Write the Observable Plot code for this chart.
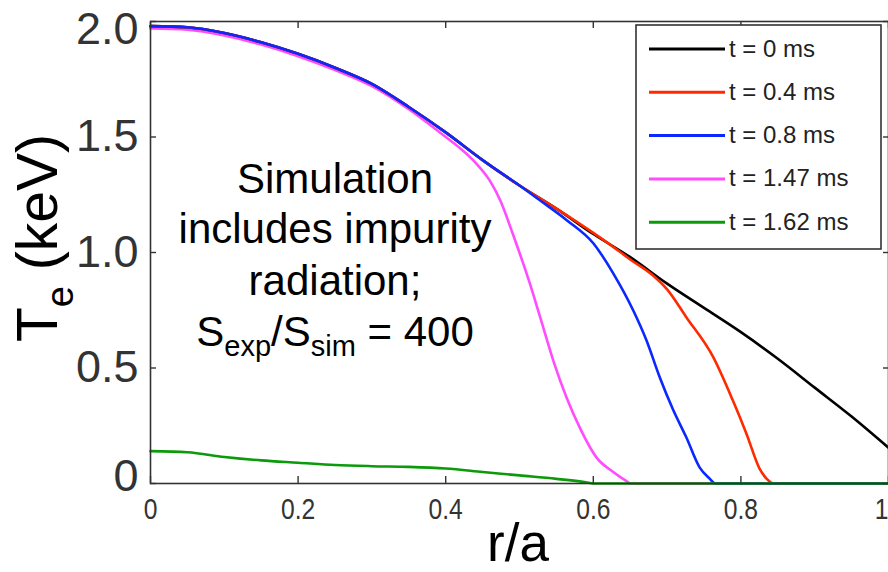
<!DOCTYPE html>
<html><head><meta charset="utf-8">
<script src="https://cdn.jsdelivr.net/npm/d3@7"></script>
<script src="https://cdn.jsdelivr.net/npm/@observablehq/plot@0.6"></script>
<style>body{margin:0;background:#fff;font-family:"Liberation Sans",Arial,sans-serif} svg{display:block}</style>
</head><body><div id="chart"></div>
<script>
// ---- data ----
const seriesNames  = ["t = 0 ms", "t = 0.4 ms", "t = 0.8 ms", "t = 1.47 ms", "t = 1.62 ms"];
const seriesColors = ["#000000", "#ff2a00", "#0a28ff", "#ff4cff", "#0a9a0a"];

const r_t0   = [0, 0.05, 0.1, 0.15, 0.2, 0.25, 0.3, 0.35, 0.4, 0.45, 0.5, 0.55, 0.6, 0.65, 0.7, 0.75, 0.8, 0.85, 0.9, 0.95, 1.0];
const T_t0   = [1.98, 1.975, 1.95, 1.91, 1.86, 1.80, 1.73, 1.63, 1.52, 1.40, 1.29, 1.19, 1.08, 0.98, 0.865, 0.76, 0.655, 0.54, 0.415, 0.29, 0.155];

const r_t04  = [0, 0.05, 0.1, 0.15, 0.2, 0.25, 0.3, 0.35, 0.4, 0.45, 0.5, 0.55, 0.6, 0.618, 0.65, 0.681, 0.7, 0.726, 0.762, 0.789, 0.807, 0.826, 0.835, 0.845, 1.0];
const T_t04  = [1.98, 1.975, 1.95, 1.91, 1.86, 1.80, 1.73, 1.63, 1.52, 1.40, 1.29, 1.19, 1.085, 1.045, 0.97, 0.90, 0.84, 0.72, 0.55, 0.36, 0.22, 0.06, 0.02, 0, 0];

const r_t08  = [0, 0.05, 0.1, 0.15, 0.2, 0.25, 0.3, 0.35, 0.4, 0.45, 0.5, 0.528, 0.564, 0.6, 0.627, 0.654, 0.672, 0.69, 0.708, 0.726, 0.744, 0.758, 0.765, 1.0];
const T_t08  = [1.98, 1.975, 1.95, 1.91, 1.86, 1.80, 1.73, 1.63, 1.52, 1.40, 1.29, 1.225, 1.14, 1.04, 0.91, 0.75, 0.62, 0.46, 0.32, 0.20, 0.07, 0.02, 0, 0];

const r_t147 = [0, 0.05, 0.1, 0.15, 0.2, 0.25, 0.3, 0.35, 0.4, 0.42, 0.44, 0.46, 0.474, 0.491, 0.514, 0.528, 0.546, 0.564, 0.582, 0.605, 0.627, 0.645, 0.65, 1.0];
const T_t147 = [1.97, 1.965, 1.94, 1.90, 1.85, 1.79, 1.72, 1.62, 1.50, 1.45, 1.39, 1.31, 1.225, 1.08, 0.866, 0.72, 0.53, 0.37, 0.24, 0.11, 0.05, 0.01, 0, 0];

const r_t162 = [0, 0.05, 0.1, 0.15, 0.2, 0.25, 0.3, 0.35, 0.4, 0.45, 0.5, 0.55, 0.59, 0.6, 1.0];
const T_t162 = [0.14, 0.135, 0.115, 0.10, 0.09, 0.08, 0.075, 0.072, 0.065, 0.05, 0.035, 0.02, 0.005, 0, 0];

const xTicks = [0, 0.2, 0.4, 0.6, 0.8, 1];
const xTickLabels = ["0", "0.2", "0.4", "0.6", "0.8", "1"];
const yTicks = [0, 0.5, 1, 1.5, 2];
const yTickLabels = ["0", "0.5", "1.0", "1.5", "2.0"];

const annotationLines = ["Simulation", "includes impurity", "radiation;"];

// ---- build table ----
const rs = [r_t0, r_t04, r_t08, r_t147, r_t162];
const Ts = [T_t0, T_t04, T_t08, T_t147, T_t162];
const rows = rs.map((r, s) => r.map((v, i) => ({s, r: v, T: Ts[s][i]})));
const drawOrder = [3, 0, 1, 2, 4];
const yLab = new Map(yTicks.map((t, i) => [t, yTickLabels[i]]));
const xLab = new Map(xTicks.map((t, i) => [t, xTickLabels[i]]));
const axisColor = "#333";

const plot = Plot.plot({
  width: 888, height: 572,
  marginLeft: 150, marginRight: 0, marginTop: 21, marginBottom: 89,
  style: {fontFamily: "'Liberation Sans', Arial, sans-serif", background: "#fff", color: axisColor},
  x: {domain: [0, 1]},
  y: {domain: [0, 2]},
  marks: [
    ...drawOrder.map(s => Plot.line(rows[s], {x: "r", y: "T", stroke: seriesColors[s], strokeWidth: 2.6, curve: "monotone-x"})),
    Plot.frame({stroke: axisColor, strokeWidth: 1.6}),
    Plot.axisY({anchor: "left", ticks: yTicks, tickSize: -6, tickPadding: 18, strokeWidth: 1.4,
      tickFormat: d => (d === 0 || d === 2) ? "" : yLab.get(d), fontSize: 45, fill: axisColor, label: null}),
    Plot.axisY({anchor: "left", ticks: [2], tickSize: 0, tickPadding: 12, dy: 8,
      tickFormat: d => yLab.get(d), fontSize: 45, fill: axisColor, label: null}),
    Plot.axisY({anchor: "left", ticks: [0], tickSize: 0, tickPadding: 12, dy: -7,
      tickFormat: d => yLab.get(d), fontSize: 45, fill: axisColor, label: null}),
    Plot.axisY({anchor: "right", ticks: yTicks, tickSize: -6, strokeWidth: 1.4, tickFormat: () => "", label: null}),
    Plot.axisX({anchor: "bottom", ticks: xTicks, tickSize: -7, tickPadding: 22, strokeWidth: 1.4,
      tickFormat: d => d === 1 ? "" : xLab.get(d), fontSize: 29, fill: axisColor, label: null}),
    Plot.axisX({anchor: "bottom", ticks: [1], tickSize: 0, tickPadding: 15, dx: -7,
      tickFormat: d => xLab.get(d), fontSize: 29, fill: axisColor, label: null}),
    Plot.axisX({anchor: "top", ticks: xTicks, tickSize: -6, strokeWidth: 1.4, tickFormat: () => "", label: null})
  ]
});

document.getElementById("chart").appendChild(plot);
const svg = d3.select(plot);

// narrow the small x tick labels (condensed look of the original)
svg.selectAll('g[aria-label="x-axis tick label"] text').each(function() {
  const t = d3.select(this).attr("transform") || "";
  d3.select(this).attr("transform", t + " scale(0.85,1)");
});

const font = "'Liberation Sans', Arial, sans-serif";

// annotation
const ann = svg.append("g").attr("font-family", font).attr("font-size", 42).attr("fill", "#000").attr("text-anchor", "middle");
const annY = [193, 243, 295];
annotationLines.forEach((t, i) => ann.append("text").attr("x", 335).attr("y", annY[i]).text(t));
const last = ann.append("text").attr("x", 335).attr("y", 346);
last.append("tspan").text("S");
last.append("tspan").attr("font-size", 29).attr("dy", 10).text("exp");
last.append("tspan").attr("dy", -10).text("/S");
last.append("tspan").attr("font-size", 29).attr("dy", 10).text("sim");
last.append("tspan").attr("dy", -10).text(" = 400");

// axis titles
svg.append("text").attr("font-family", font).attr("font-size", 53).attr("fill", "#000")
  .attr("text-anchor", "middle").attr("x", 518).attr("y", 561).text("r/a");
const yt = svg.append("text").attr("font-family", font).attr("font-size", 57).attr("fill", "#000")
  .attr("text-anchor", "middle").attr("transform", "translate(57,238) rotate(-90)");
yt.append("tspan").text("T");
yt.append("tspan").attr("font-size", 38).attr("dy", 16).text("e");
yt.append("tspan").attr("dy", -16).text(" (keV)");

// legend
const lg = svg.append("g").attr("font-family", font).attr("text-anchor", "start");
lg.append("rect").attr("x", 636).attr("y", 25).attr("width", 245).attr("height", 224)
  .attr("fill", "#fff").attr("stroke", axisColor).attr("stroke-width", 1.6);
seriesNames.forEach((name, i) => {
  const cy = 49 + i * 43.3;
  lg.append("line").attr("x1", 649).attr("x2", 725).attr("y1", cy).attr("y2", cy)
    .attr("stroke", seriesColors[i]).attr("stroke-width", 3);
  lg.append("text").attr("x", 729).attr("y", cy + 7.5).attr("font-size", 24).attr("fill", "#222")
    .attr("text-anchor", "start").text(name);
});
</script>
</body></html>
